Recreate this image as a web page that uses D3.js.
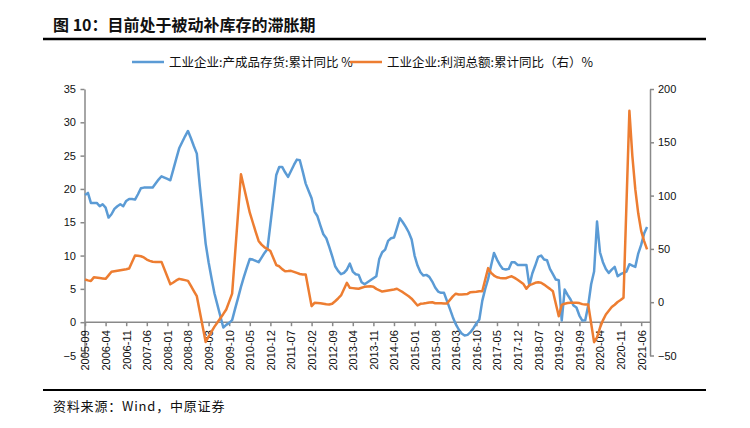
<!DOCTYPE html>
<html><head><meta charset="utf-8">
<script src="https://cdn.jsdelivr.net/npm/d3@7"></script>
<style>body{margin:0;background:#fff;} svg{display:block;}</style>
</head><body>
<svg id="chart" width="750" height="428"></svg>
<script>
// ---------- data ----------
const firstMonth = new Date(2005, 8, 1);   // 2005-09
const endMonthExclusive = new Date(2021, 9, 1); // through 2021-09
const tickLabels = ["2005-09","2006-04","2006-11","2007-06","2008-01","2008-08","2009-03","2009-10",
  "2010-05","2010-12","2011-07","2012-02","2012-09","2013-04","2013-11","2014-06","2015-01","2015-08",
  "2016-03","2016-10","2017-05","2017-12","2018-07","2019-02","2019-09","2020-04","2020-11","2021-06"];
const leftTicks = [-5, 0, 5, 10, 15, 20, 25, 30, 35];
const rightTicks = [-50, 0, 50, 100, 150, 200];
const seriesNames = ["工业企业:产成品存货:累计同比 %", "工业企业:利润总额:累计同比（右）%"];

// 工业企业:产成品存货:累计同比 (left axis), monthly from 2005-09
const inventoryYoY = [
  19.1, 19.4, 17.9, 17.9,
  17.9, 17.4, 17.7, 17.2, 15.7, 16.2, 17.0, 17.4, 17.7, 17.4, 18.2, 18.5,
  18.5, 18.4, 19.2, 20.1, 20.2, 20.2, 20.2, 20.2, 20.8, 21.4, 21.9, 21.7,
  21.5, 21.3, 22.9, 24.5, 26.1, 27.0, 27.9, 28.7, 27.6, 26.4, 25.3, 20.5,
  16.2, 11.8, 9.0, 6.6, 4.3, 2.6, 0.9, -0.8, -0.4, -0.1, 0.3, 2.0,
  3.6, 5.3, 6.8, 8.2, 9.5, 9.4, 9.2, 9.0, 9.7, 10.4, 11.0, 14.7,
  18.4, 22.1, 23.3, 23.3, 22.5, 21.8, 22.7, 23.6, 24.4, 24.3, 22.6, 20.8,
  19.7, 18.6, 16.6, 15.9, 14.5, 13.2, 12.6, 11.3, 9.9, 8.4, 7.7, 7.2,
  7.4, 7.9, 8.8, 7.6, 7.2, 7.1, 6.0, 5.7, 6.0, 6.3, 6.6, 6.9,
  9.5, 10.5, 10.9, 12.2, 12.6, 12.7, 14.1, 15.6, 15.0, 14.3, 13.5, 12.4,
  10.0, 8.5, 7.5, 7.0, 7.1, 6.8, 6.1, 5.2, 4.6, 4.4, 4.4, 3.2,
  2.0, 0.75, -0.3, -1.1, -1.7, -2.0, -1.9, -1.5, -0.9, -0.2, 0.4, 3.2,
  5.0, 6.5, 8.5, 10.4, 9.4, 8.6, 8.0, 7.9, 8.0, 9.0, 9.0, 8.6,
  8.6, 8.6, 8.6, 5.5, 7.3, 8.5, 9.8, 10.0, 9.4, 9.3, 8.0, 7.2,
  6.4, 6.3, 0.25, 4.9, 4.1, 3.4, 2.5, 2.2, 1.0, 0.25, 0.3, 2.5,
  5.7, 7.6, 15.1, 10.5, 9.0, 8.0, 7.4, 7.9, 8.3, 6.9, 7.2, 7.4,
  7.6, 8.7, 8.5, 8.3, 10.3, 11.6, 13.3, 14.3, null
];

// 工业企业:利润总额:累计同比 (right axis), monthly from 2005-09
const profitYoY = [
  21.3, 20.5, 19.8, 23.3,
  null, 22.6, 22.3, 21.9, 25.2, 28.5, 29.0, 29.5, 30.0, 30.5, 31.0, 31.6,
  null, 43.8, 43.5, 43.1, 42.0, 40.0, 38.8, 37.9, 37.8, 37.8, 37.8, null,
  null, 16.8, 18.5, 20.4, 21.9, 21.3, 20.7, 20.0, 15.2, 10.4, 5.6, null,
  null, -37.3, -32.3, -27.5, -22.9, -19.0, -15.0, -11.0, -6.8, 0.5, 8.0, null,
  null, 120.0, 108.0, 96.0, 84.0, 75.0, 66.0, 57.5, 54.0, 51.5, 50.0, 48.0,
  null, 34.8, 33.7, 31.0, 29.1, 29.2, 29.4, 28.5, 27.5, 26.5, 26.0, 26.0,
  null, -3.7, -0.6, -0.8, -1.0, -1.5, -2.0, -2.2, -1.5, 0.9, 3.5, 6.3,
  null, 18.2, 13.5, 13.2, 12.9, 12.6, 13.5, 14.4, 14.8, 15.0, 14.5, 12.5,
  null, 10.0, 10.5, 11.0, 11.5, 12.0, 12.6, 11.0, 9.4, 7.5, 5.6, 3.3,
  null, -3.1, -1.5, -1.2, -0.8, -0.3, 0.0, -1.0, -1.0, -1.1, -1.2, -1.2,
  null, 5.5, 8.0, 7.3, 7.2, 7.5, 7.8, 9.4, 9.6, 9.8, 10.3, 10.3,
  null, 32.0, 27.5, 25.0, 23.4, 22.8, 22.5, 22.5, 23.5, 24.3, 22.8, 21.0,
  null, 17.0, 12.6, 16.0, 17.0, 18.2, 18.7, 18.2, 16.5, 14.5, 12.5, 10.3,
  null, -13.1, -2.5, -1.5, -0.8, -0.6, -0.6, -0.6, -0.8, -1.8, -2.2, -2.2,
  null, -37.5, -33.0, -24.0, -17.0, -11.5, -8.0, -4.5, -2.4, 0.2, 2.0, 4.1,
  null, 179.5, 137.3, 106.0, 83.4, 66.9, 57.3, 49.5, null
];

// ---------- chart ----------
const months = d3.timeMonth.range(firstMonth, endMonthExclusive).map(d3.timeFormat("%Y-%m"));
const svg = d3.select("#chart");
const BLUE = "#5B9BD5", ORANGE = "#ED7D31", AXIS = "#898989";
const cjk = "'Noto Sans CJK SC', 'Noto Sans', sans-serif";
const latin = "'Liberation Sans', Arial, sans-serif";

const x = d3.scalePoint().domain(months).range([85, 650]);
const yL = d3.scaleLinear().domain([-5, 35]).range([355.5, 89]);
const yR = d3.scaleLinear().domain([-50, 200]).range([355.5, 89]);

// title
svg.append("text").attr("x", 53).attr("y", 31)
  .attr("font-family", cjk).attr("font-weight", 700).attr("font-size", 16).attr("fill", "#111")
  .text("图 10：目前处于被动补库存的滞胀期");
svg.append("line").attr("x1", 43).attr("x2", 706).attr("y1", 39).attr("y2", 39)
  .attr("stroke", "#000").attr("stroke-width", 2.3);

// legend
const legend = [
  {name: seriesNames[0], color: BLUE, x1: 132, tx: 169},
  {name: seriesNames[1], color: ORANGE, x1: 350, tx: 387}
];
legend.forEach(l => {
  svg.append("line").attr("x1", l.x1).attr("x2", l.x1 + 32).attr("y1", 62).attr("y2", 62)
    .attr("stroke", l.color).attr("stroke-width", 2.5);
  svg.append("text").attr("x", l.tx).attr("y", 66.5).attr("font-family", cjk)
    .attr("font-size", 12.5).attr("fill", "#111").text(l.name);
});

// axes
function styleAxis(g) {
  g.selectAll("path.domain").attr("stroke", AXIS).attr("stroke-width", 1.5);
  g.selectAll(".tick line").attr("stroke", AXIS).attr("stroke-width", 1.5);
  g.selectAll(".tick text").attr("font-family", latin).attr("font-size", 11).attr("fill", "#111");
}
const gL = svg.append("g").attr("transform", "translate(84.5,0)")
  .call(d3.axisLeft(yL).tickValues(leftTicks).tickSize(4).tickSizeOuter(0).tickPadding(4.5));
styleAxis(gL);
const gR = svg.append("g").attr("transform", "translate(650,0)")
  .call(d3.axisRight(yR).tickValues(rightTicks).tickSize(4).tickSizeOuter(0).tickPadding(4));
styleAxis(gR);

const gX = svg.append("g").attr("transform", `translate(0,${yL(0)})`)
  .call(d3.axisBottom(x).tickValues(tickLabels).tickSize(4).tickSizeOuter(0));
styleAxis(gX);
gX.select("path.domain").attr("d", `M84.5,0H650`);
gX.selectAll(".tick text")
  .attr("transform", "rotate(-90)").attr("text-anchor", "end")
  .attr("x", -8).attr("y", 0).attr("dy", "0.35em");

// lines
function drawSeries(values, yScale, color) {
  const pts = months.map((m, i) => ({m, v: values[i]})).filter(d => d.v !== null && d.v !== undefined);
  const line = d3.line().x(d => x(d.m)).y(d => yScale(d.v));
  svg.append("path").datum(pts).attr("d", line).attr("fill", "none")
    .attr("stroke", color).attr("stroke-width", 2.5).attr("stroke-linejoin", "round");
}
drawSeries(inventoryYoY, yL, BLUE);
drawSeries(profitYoY, yR, ORANGE);

// footer
svg.append("line").attr("x1", 43).attr("x2", 706).attr("y1", 390).attr("y2", 390)
  .attr("stroke", "#000").attr("stroke-width", 2);
svg.append("text").attr("x", 53).attr("y", 410.5).attr("font-family", cjk)
  .attr("font-size", 13).attr("letter-spacing", 0.8).attr("fill", "#111").text("资料来源：Wind，中原证券");
</script>
</body></html>
